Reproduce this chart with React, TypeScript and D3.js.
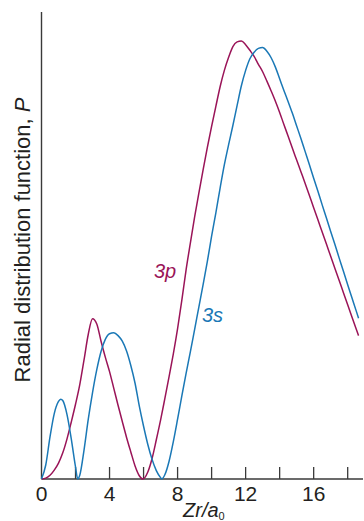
import React from 'react';
import * as d3 from 'd3';

const W = 364;
const H = 521;

// x tick marks (every 2) and labelled ticks (every 4)
const tickMarks = [2, 4, 6, 8, 10, 12, 14, 16, 18];
const tickLabels = [0, 4, 8, 12, 16];

// 3s radial distribution function
const r3s = [0, 0.25, 0.5, 0.75, 1.0, 1.13, 1.25, 1.5, 1.75, 2.0, 2.13, 2.25, 2.5, 2.75, 3.0, 3.25, 3.5, 3.75, 4.0, 4.25, 4.5, 4.75, 5.0, 5.25, 5.5, 5.75, 6.0, 6.25, 6.5, 6.75, 7.0, 7.07, 7.25, 7.5, 7.75, 8.0, 8.25, 8.5, 8.75, 9.0, 9.25, 9.5, 9.75, 10.0, 10.25, 10.5, 10.75, 11.0, 11.25, 11.5, 11.75, 12.0, 12.25, 12.5, 12.75, 13.0, 13.25, 13.5, 13.75, 14.0, 14.25, 14.5, 14.75, 15.0, 15.25, 15.5, 15.75, 16.0, 16.25, 16.5, 16.75, 17.0, 17.25, 17.5, 17.75, 18.0, 18.25, 18.5, 18.64];
const p3s = [0, 3.0, 9.0, 14.0, 16.6, 17.1, 16.8, 13.8, 8.6, 2.6, 0, 0.8, 6.2, 12.8, 18.5, 23.4, 27.3, 29.9, 31.1, 31.3, 30.7, 29.5, 27.4, 24.3, 20.5, 15.6, 11.3, 7.4, 4.2, 1.8, 0.3, 0, 0.9, 3.8, 8.0, 12.8, 17.8, 22.6, 27.2, 32.0, 36.8, 41.6, 46.6, 52.0, 57.0, 62.3, 67.3, 71.6, 75.7, 80.0, 84.2, 87.5, 90.0, 91.4, 92.2, 92.4, 91.6, 90.2, 88.2, 85.7, 83.2, 80.8, 78.3, 75.6, 72.9, 70.1, 67.3, 64.4, 61.6, 58.7, 55.9, 53.0, 50.2, 47.3, 44.5, 41.6, 38.8, 36.0, 34.4];

// 3p radial distribution function
const r3p = [0, 0.25, 0.5, 0.75, 1.0, 1.25, 1.5, 1.75, 2.0, 2.25, 2.5, 2.75, 3.0, 3.25, 3.5, 3.75, 4.0, 4.25, 4.5, 4.75, 5.0, 5.25, 5.5, 5.75, 5.95, 6.25, 6.5, 6.75, 7.0, 7.25, 7.5, 7.75, 8.0, 8.25, 8.5, 8.75, 9.0, 9.25, 9.5, 9.75, 10.0, 10.25, 10.5, 10.75, 11.0, 11.25, 11.5, 11.75, 12.0, 12.25, 12.5, 12.75, 13.0, 13.25, 13.5, 13.75, 14.0, 14.25, 14.5, 14.75, 15.0, 15.25, 15.5, 15.75, 16.0, 16.25, 16.5, 16.75, 17.0, 17.25, 17.5, 17.75, 18.0, 18.25, 18.5, 18.64];
const p3p = [0, 0.2, 0.8, 1.9, 3.4, 5.6, 8.6, 12.2, 16.0, 20.2, 25.5, 31.0, 34.3, 33.2, 29.5, 26.1, 23.0, 19.4, 15.8, 12.3, 8.9, 5.8, 2.8, 0.7, 0, 1.5, 4.4, 8.4, 12.6, 17.2, 21.9, 26.8, 32.2, 38.3, 44.8, 50.5, 56.1, 61.2, 66.2, 71.0, 75.5, 79.8, 84.0, 87.5, 90.3, 92.6, 93.6, 93.8, 93.0, 91.8, 90.5, 88.8, 87.2, 85.2, 83.1, 80.9, 78.5, 75.9, 73.4, 70.8, 68.3, 65.8, 63.3, 60.7, 58.1, 55.5, 52.9, 50.3, 47.7, 45.1, 42.5, 39.9, 37.3, 34.7, 32.1, 30.7];

const BLUE = '#1a78b6';
const MAGENTA = '#9a1458';
const INK = '#231f20';
const FONT = '"Liberation Sans", Arial, Helvetica, sans-serif';

export default function App() {
  const x = d3.scaleLinear().domain([0, 18.9]).range([41.5, 363]);
  const y = d3.scaleLinear().domain([0, 100]).range([479, 12]);
  const line = d3
    .line<[number, number]>()
    .x((d) => x(d[0]))
    .y((d) => y(d[1]))
    .curve(d3.curveMonotoneX);

  const s3 = r3s.map((r, i) => [r, p3s[i]] as [number, number]);
  const p3 = r3p.map((r, i) => [r, p3p[i]] as [number, number]);

  return (
    <svg
      width={W}
      height={H}
      viewBox={`0 0 ${W} ${H}`}
      style={{ position: 'absolute', left: 0, top: 0, background: '#fff' }}
      fontFamily={FONT}
    >
      <rect x={0} y={0} width={W} height={H} fill="#fff" />
      {/* axes */}
      <line x1={x(0)} x2={x(0)} y1={y(100)} y2={y(0)} stroke="#3a3a3a" strokeWidth={1.4} />
      <line x1={x(0)} x2={x(18.9)} y1={y(0)} y2={y(0)} stroke="#3a3a3a" strokeWidth={1.4} />
      {tickMarks.map((t) => (
        <line key={t} x1={x(t)} x2={x(t)} y1={y(0)} y2={y(0) - 12} stroke="#3a3a3a" strokeWidth={1.3} />
      ))}
      {tickLabels.map((t) => (
        <text key={t} x={x(t)} y={500.5} fontSize={21} fill={INK} textAnchor="middle">
          {t}
        </text>
      ))}
      <text x={183} y={517} fontSize={20} fill={INK} fontStyle="italic">
        Zr/a
        <tspan fontSize={11} dy={2.5} fontStyle="normal">0</tspan>
      </text>
      <text
        transform="translate(30,240) rotate(-90)"
        fontSize={22}
        fill={INK}
        textAnchor="middle"
      >
        Radial distribution function, <tspan fontStyle="italic">P</tspan>
      </text>

      {/* curves */}
      <path d={line(p3) || ''} fill="none" stroke={MAGENTA} strokeWidth={1.5} />
      <path d={line(s3) || ''} fill="none" stroke={BLUE} strokeWidth={1.5} />

      {/* labels */}
      <text x={154} y={277.5} fontSize={20} fill={MAGENTA} fontStyle="italic">3p</text>
      <text x={202} y={321.5} fontSize={20} fill={BLUE} fontStyle="italic">3s</text>
    </svg>
  );
}
